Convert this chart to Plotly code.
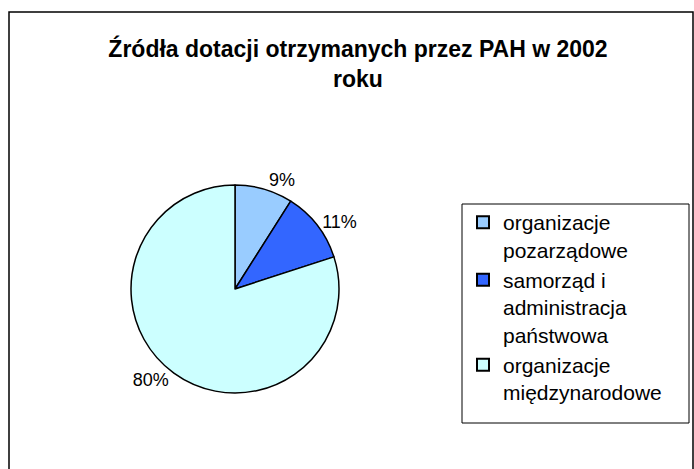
import plotly.graph_objects as go

labels = ["organizacje<br>pozarządowe", "samorząd i<br>administracja<br>państwowa", "organizacje<br>międzynarodowe"]
values = [9, 11, 80]
colors = ["#99CCFF", "#3366FF", "#CCFFFF"]

W, H = 694, 469

fig = go.Figure(go.Pie(
    labels=labels,
    values=values,
    sort=False,
    direction="clockwise",
    rotation=0,
    marker=dict(colors=colors, line=dict(color="black", width=1.5)),
    textinfo="percent",
    texttemplate="%{percent:.0%}",
    textposition="outside",
    textfont=dict(family="Liberation Sans, Arial", size=18, color="black"),
    domain=dict(x=[130 / W, 340 / W], y=[1 - 393 / H, 1 - 185 / H]),
    hoverinfo="label+percent",
))

fig.update_layout(
    width=W, height=H,
    margin=dict(l=0, r=0, t=0, b=0),
    paper_bgcolor="white",
    plot_bgcolor="white",
    font=dict(family="Liberation Sans, Arial", color="black"),
    title=dict(
        text="<b>Źródła dotacji otrzymanych przez PAH w 2002<br>roku</b>",
        x=358 / W, xanchor="center",
        y=1 - 57 / H, yanchor="top",
        font=dict(family="Liberation Sans, Arial", size=23, color="black"),
    ),
    legend=dict(
        x=463 / W, xanchor="left",
        y=1 - 202 / H, yanchor="top",
        bgcolor="rgba(0,0,0,0)",
        borderwidth=0,
        font=dict(family="Liberation Sans, Arial", size=21, color="black"),
        valign="top",
        tracegroupgap=0,
        itemsizing="constant",
    ),
    shapes=[
        dict(
            type="rect", xref="paper", yref="paper",
            x0=9 / W, x1=693 / W, y0=-0.05, y1=1 - 12 / H,
            line=dict(color="black", width=1.5), fillcolor="rgba(0,0,0,0)",
            layer="below",
        ),
        dict(
            type="rect", xref="paper", yref="paper",
            x0=462 / W, x1=689 / W, y0=1 - 423 / H, y1=1 - 204 / H,
            line=dict(color="black", width=1), fillcolor="rgba(0,0,0,0)",
            layer="below",
        ),
    ],
)

fig.write_html(
    "out.html",
    config={"displayModeBar": False},
    post_script="document.body.style.margin='0';document.body.style.overflow='hidden';",
)
